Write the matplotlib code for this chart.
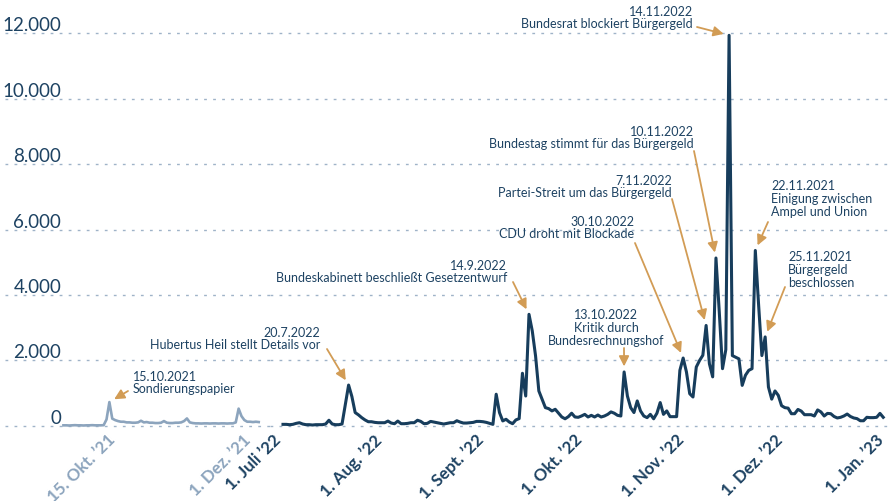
import matplotlib
matplotlib.use('Agg')
import matplotlib.pyplot as plt
import matplotlib.dates as mdates
import matplotlib.transforms as mtransforms
import pandas as pd

plt.rcParams['font.family'] = ['Lato', 'DejaVu Sans']

W, H = 888, 502
NAVY = '#1d4262'
LINE = '#173d5c'
GRAY = '#8ca4bd'
GRID = '#9fb3c8'
GOLD = '#d29c55'

# Tageswerte Herbst 2021 (grau), ab 26.9.2021
old_start = '2021-09-26'
old_values = [20, 20, 15, 20, 25,
              20, 20, 15, 20, 20, 25, 20, 20, 20, 25,
              200, 730, 225, 180, 150, 130, 130, 110, 110, 100,
              100, 110, 160, 110, 120, 100, 100, 90, 90, 100, 150,
              100, 90, 90, 100, 100, 110, 150, 230, 110, 90,
              80, 80, 75, 80, 80, 75, 80, 80, 75, 80,
              80, 75, 80, 80, 110, 530, 300, 180, 130, 130,
              120, 130, 120]

# Tageswerte 1.7.2022 - 31.12.2022
new_start = '2022-07-01'
jul = [50, 50, 40, 50, 80, 100, 60, 40, 40, 30, 40, 40, 40, 60, 175, 60,
       40, 40, 60, 650, 1250, 900, 410, 340, 255, 185, 130, 130, 110, 100, 100]
aug = [100, 150, 90, 70, 150, 70, 70, 80, 100, 100, 175, 140, 70, 80, 140, 120,
       100, 80, 60, 80, 100, 100, 160, 120, 90, 90, 100, 110, 140, 140, 130]
sep = [110, 80, 50, 970, 410, 155, 205, 120, 70, 185, 225, 1610, 915, 3410, 2900,
       2140, 1070, 815, 560, 530, 460, 510, 390, 275, 220, 285, 390, 275, 265, 305]
okt = [355, 275, 325, 275, 335, 275, 305, 355, 430, 390, 325, 305, 1650, 915, 560,
       410, 765, 460, 305, 255, 355, 220, 390, 715, 355, 460, 285, 285, 285, 1700, 2075]
nov = [1650, 985, 885, 1800, 2000, 2160, 3070, 1900, 1500, 5130, 3500, 1750, 2330,
       11930, 2150, 2100, 2050, 1240, 1550, 1700, 1750, 5360, 3700, 2150, 2720,
       1190, 820, 1070, 935, 620]
dez = [560, 545, 375, 375, 505, 455, 345, 345, 345, 305, 490, 430, 305, 385, 375,
       290, 245, 265, 305, 365, 290, 245, 225, 160, 160, 265, 255, 255, 265, 385, 265]
new_values = jul + aug + sep + okt + nov + dez

y_ticks = [0, 2000, 4000, 6000, 8000, 10000, 12000]
y_labels = ['0', '2.000', '4.000', '6.000', '8.000', '10.000', '12.000']

old_ticks = ['2021-10-15', '2021-12-01']
old_tick_labels = ['15. Okt. \u201921', '1. Dez. \u201921']
new_ticks = ['2022-07-01', '2022-08-01', '2022-09-01', '2022-10-01',
             '2022-11-01', '2022-12-01', '2023-01-01']
new_tick_labels = ['1. Juli \u201922', '1. Aug. \u201922', '1. Sept. \u201922',
                   '1. Okt. \u201922', '1. Nov. \u201922', '1. Dez. \u201922',
                   '1. Jan. \u201923']

# (Text, Ziel-Datum, Textposition px, Ausrichtung, Pfeilanfang px, Achse)
events = [
    ('15.10.2021\nSondierungspapier', '2021-10-12', (133, 383), 'left', (128, 392), 'old'),
    ('20.7.2022\nHubertus Heil stellt Details vor', '2022-07-21', (320, 339), 'right', (327, 350), 'new'),
    ('14.9.2022\nBundeskabinett beschließt Gesetzentwurf', '2022-09-14', (507, 272), 'right', (513, 283), 'new'),
    ('13.10.2022\nKritik durch\nBundesrechnungshof', '2022-10-13', (606, 328), 'center', (624, 349), 'new'),
    ('30.10.2022\nCDU droht mit Blockade', '2022-10-31', (634, 228), 'right', (635, 244), 'new'),
    ('7.11.2022\nPartei-Streit um das Bürgergeld', '2022-11-07', (672, 187), 'right', (672, 200), 'new'),
    ('10.11.2022\nBundestag stimmt für das Bürgergeld', '2022-11-10', (694, 138), 'right', (694, 152), 'new'),
    ('14.11.2022\nBundesrat blockiert Bürgergeld', '2022-11-14', (693, 18), 'right', (697, 28), 'new'),
    ('22.11.2021\nEinigung zwischen\nAmpel und Union', '2022-11-22', (771, 199), 'left', (768, 223), 'new'),
    ('25.11.2021\nBürgergeld\nbeschlossen', '2022-11-25', (788, 270), 'left', (785, 288), 'new'),
]

old = pd.Series(old_values, index=pd.date_range(old_start, periods=len(old_values), freq='D'))
new = pd.Series(new_values, index=pd.date_range(new_start, periods=len(new_values), freq='D'))

fig = plt.figure(figsize=(W / 100, H / 100), dpi=100)

# Achsen in Pixeln: 0 bei y=427, 12.000 bei y=34
bottom, top = 432, 29
ax_old = fig.add_axes([5 / W, (H - bottom) / H, 265 / W, (bottom - top) / H])
ax_new = fig.add_axes([270 / W, (H - bottom) / H, 618 / W, (bottom - top) / H])

for ax in (ax_old, ax_new):
    ax.set_facecolor('none')
    for s in ax.spines.values():
        s.set_visible(False)
    ax.set_ylim(-153, 12153)
    ax.set_yticks(y_ticks)
    ax.grid(axis='y', color=GRID, linestyle=(0, (2, 4.5)), linewidth=1)
    ax.set_axisbelow(True)
    ax.tick_params(length=0)

ax_old.plot(old.index, old.values, color=GRAY, lw=1.9, solid_joinstyle='round', clip_on=False)
ax_new.plot(new.index, new.values, color=LINE, lw=2.2, solid_joinstyle='round', clip_on=False)

d_okt = mdates.date2num(pd.Timestamp('2021-10-15'))
ax_old.set_xlim(d_okt - 113 / 2.872, d_okt + 152 / 2.872)
d_jul = mdates.date2num(pd.Timestamp('2022-07-01'))
ax_new.set_xlim(d_jul - 13 / 3.28, d_jul + 605 / 3.28)

ax_old.set_yticklabels(y_labels)
ax_old.tick_params(axis='y', pad=-40.5, labelsize=13.5, labelcolor=NAVY)
for lab in ax_old.get_yticklabels():
    lab.set_va('bottom')
ax_new.set_yticklabels([])

# Datumsbeschriftungen etwas nach links schieben
shift = mtransforms.ScaledTranslation(-5 / 100, 0, fig.dpi_scale_trans)
for ax, ticks, labels, col in [(ax_old, old_ticks, old_tick_labels, GRAY),
                               (ax_new, new_ticks, new_tick_labels, NAVY)]:
    ax.set_xticks(pd.to_datetime(ticks))
    ax.set_xticklabels(labels, rotation=45, ha='right', va='center',
                       rotation_mode='anchor', fontsize=12.2, fontweight='bold', color=col)
    ax.tick_params(axis='x', pad=4)
    for lab in ax.get_xticklabels():
        lab.set_transform(lab.get_transform() + shift)

for text, date, (tx, ty), ha, (ax_, ay_), which in events:
    ax = ax_old if which == 'old' else ax_new
    series = old if which == 'old' else new
    d = pd.Timestamp(date)
    fig.text(tx / W, 1 - ty / H, text, ha=ha, va='center', fontsize=9.0,
             color=NAVY, linespacing=1.08)
    ax.annotate('', xy=(d, series[d]), xycoords='data',
                xytext=(ax_, H - ay_), textcoords='figure pixels',
                arrowprops=dict(arrowstyle='-|>,head_length=0.6,head_width=0.3',
                                color=GOLD, lw=1.3, mutation_scale=10,
                                shrinkA=0, shrinkB=4),
                annotation_clip=False)

fig.savefig('out.png', dpi=100)
